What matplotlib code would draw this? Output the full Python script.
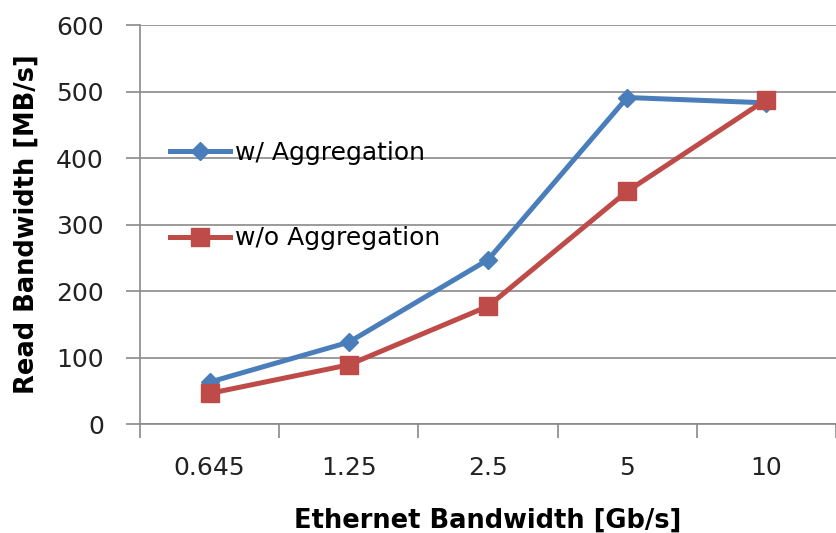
import matplotlib.pyplot as plt

categories = ['0.645', '1.25', '2.5', '5', '10']
with_agg = [63, 123, 247, 491, 483]
without_agg = [46, 89, 177, 350, 488]

plt.rcParams['font.family'] = ['DejaVu Sans']

fig = plt.figure(figsize=(8.36, 5.33), dpi=100)
ax = fig.add_axes([0.1675, 0.2045, 0.8325, 0.7485])

x = list(range(len(categories)))
ax.plot(x, with_agg, color='#4A7EBB', lw=3.6, marker='D', ms=9.5,
        label='w/ Aggregation', zorder=3)
ax.plot(x, without_agg, color='#BE4B48', lw=3.6, marker='s', ms=13,
        label='w/o Aggregation', zorder=4)

ax.set_xlim(-0.5, len(categories) - 0.5)
ax.set_ylim(0, 600)
ax.set_yticks(range(0, 601, 100))
ax.set_xticks(x)
ax.set_xticklabels(categories)
ax.set_xticks([i - 0.5 for i in range(len(categories) + 1)], minor=True)
ax.tick_params(axis='x', which='major', length=0, pad=23, labelsize=18, colors='#222222')
ax.tick_params(axis='x', which='minor', length=10, width=1.2, color='#8a8a8a')
ax.tick_params(axis='y', length=10, width=1.2, labelsize=18, colors='#222222', pad=16)
ax.tick_params(axis='y', color='#8a8a8a')

ax.grid(axis='y', color='#8a8a8a', lw=1.2)
ax.set_axisbelow(True)
for s in ['top', 'right']:
    ax.spines[s].set_visible(False)
ax.spines['left'].set_color('#8a8a8a')
ax.spines['left'].set_linewidth(1.2)
ax.spines['bottom'].set_color('#8a8a8a')
ax.spines['bottom'].set_linewidth(1.2)

ax.set_xlabel('Ethernet Bandwidth [Gb/s]', fontsize=18.5, fontweight='bold', labelpad=20)
ax.set_ylabel('Read Bandwidth [MB/s]', fontsize=18.5, fontweight='bold', labelpad=12)

ax.legend(loc='upper left', bbox_to_anchor=(0.029, 0.734), frameon=False,
          fontsize=18, handlelength=2.4, handletextpad=0.2, labelspacing=2.45,
          borderaxespad=0)

fig.savefig('out.png', dpi=100)
